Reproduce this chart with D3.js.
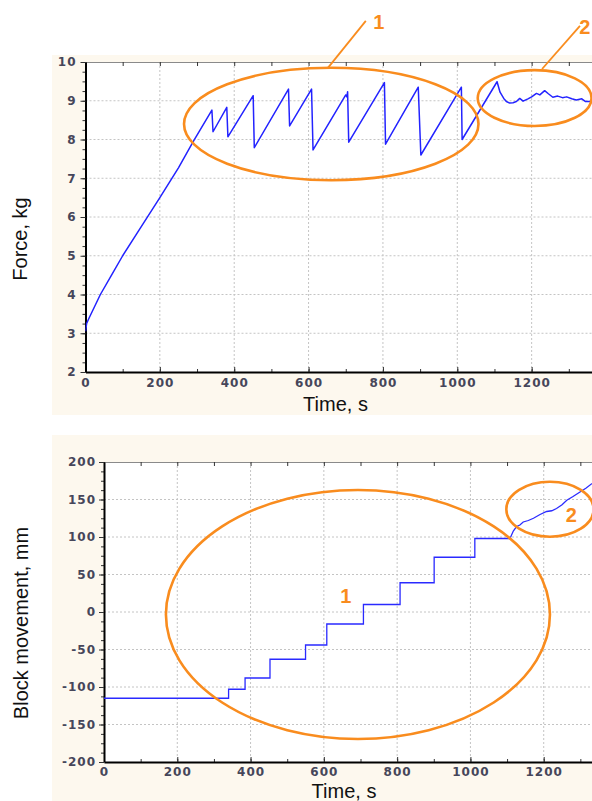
<html>
<head>
<meta charset="utf-8">
<script src="https://cdn.jsdelivr.net/npm/d3@7"></script>
<style>
  body { margin: 0; background: #fff; }
  .tick text { font-family: "DejaVu Sans", sans-serif; font-weight: bold; font-size: 12px; fill: #46465a; letter-spacing: 1px; }
  .title { font-family: "Liberation Sans", Arial, sans-serif; font-size: 20px; fill: #111; }
  .note { font-family: "Liberation Sans", Arial, sans-serif; font-weight: bold; font-size: 20px; fill: #f98c1e; }
</style>
</head>
<body>
<svg id="chart" width="592" height="801"></svg>
<script>
// force curve (top)
const forceTime = [0,3,10,20,40,70,100,150,200,250,290,340,343,380,383,451,454,546,549,608,612,700,703,705,708,804,807,895,902,1011,1013,1107,1115,1125,1132,1141,1150,1159,1168,1177,1190,1200,1213,1222,1235,1245,1257,1270,1283,1294,1308,1320,1335,1345,1356,1370,1385,1400];
const forceKg = [3.05,3.25,3.4,3.6,4.0,4.5,5.0,5.75,6.5,7.27,7.95,8.76,8.2,8.83,8.07,9.13,7.79,9.30,8.35,9.30,7.73,9.15,9.10,9.23,7.93,9.47,7.88,9.35,7.6,9.35,8.0,9.49,9.22,9.06,8.98,8.94,8.95,8.98,9.06,8.99,9.05,9.1,9.19,9.15,9.26,9.18,9.09,9.12,9.08,9.10,9.05,9.02,9.05,8.98,8.98,9.02,9.0,9.02];

// block movement (bottom): stick-slip steps, then creep
const stepTime = [0,340,385,453,550,608,708,808,901,1012,1108];
const stepMm = [-115,-103,-88,-63,-44,-16,10,39,73,98,98];
const creepTime = [1108,1117,1126,1135,1144,1158,1172,1190,1208,1222,1235,1250,1263,1280,1299,1315,1331,1360,1400];
const creepMm = [98,108,114,116,120,122,125,130,134,135,138,143,149,154,160,165,171,177,184];

// tick labels
const timeTicks = [0,200,400,600,800,1000,1200];
const timeMinor = d3.range(0, 1401, 100);
const forceTicks = [2,3,4,5,6,7,8,9,10];
const forceMinor = d3.range(2, 10.01, 0.25);
const mmTicks = [-200,-150,-100,-50,0,50,100,150,200];
const mmMinor = d3.range(-200, 201, 12.5);

const W = 592;
const orange = '#f98c1e';
const svg = d3.select('#chart');
const plain = d => String(d);

function drawChart(c) {
  svg.append('rect').attr('x', 52).attr('y', c.panelTop).attr('width', W - 52).attr('height', c.panelH).attr('fill', '#fdf8ee');
  const x = d3.scaleLinear().domain([0, 1400]).range([c.left, c.right]);
  const y = d3.scaleLinear().domain(c.yDomain).range([c.bottom, c.top]);
  const g = svg.append('g');
  g.append('rect').attr('x', c.left).attr('y', c.top).attr('width', c.right - c.left + 10).attr('height', c.bottom - c.top).attr('fill', '#fff');

  // dotted grid
  g.selectAll('.vg').data(timeTicks.slice(1)).enter().append('line')
    .attr('x1', d => x(d)).attr('x2', d => x(d)).attr('y1', c.top).attr('y2', c.bottom)
    .attr('stroke', '#c4c4c4').attr('stroke-dasharray', '2,2');
  g.selectAll('.hg').data(c.yTicks.slice(1, -1)).enter().append('line')
    .attr('x1', c.left).attr('x2', c.right + 10).attr('y1', d => y(d)).attr('y2', d => y(d))
    .attr('stroke', '#c4c4c4').attr('stroke-dasharray', '2,2');

  const clipId = 'clip' + c.panelTop;
  svg.append('clipPath').attr('id', clipId).append('rect')
    .attr('x', c.left).attr('y', c.top).attr('width', c.right - c.left).attr('height', c.bottom - c.top);

  // top border
  const border = g.append('g').attr('transform', `translate(0,${c.top})`)
    .call(d3.axisTop(x).tickValues(timeMinor).tickSize(-4).tickSizeOuter(0).tickFormat(''));
  border.select('.domain').attr('stroke', '#8a8a8a');

  // bottom axis
  g.append('g').attr('transform', `translate(0,${c.bottom})`)
    .call(d3.axisBottom(x).tickValues(timeMinor).tickSize(-3).tickSizeOuter(0).tickFormat(''))
    .select('.domain').remove();
  const bx = g.append('g').attr('transform', `translate(0,${c.bottom})`)
    .call(d3.axisBottom(x).tickValues(timeTicks).tickSize(-5).tickSizeOuter(0).tickPadding(c.xPad).tickFormat(plain));
  bx.select('.domain').attr('stroke', '#000').attr('stroke-width', 2);

  // left axis
  g.append('g').attr('transform', `translate(${c.left},0)`)
    .call(d3.axisLeft(y).tickValues(c.yMinor).tickSize(3).tickSizeOuter(0).tickFormat(''))
    .select('.domain').remove();
  const ly = g.append('g').attr('transform', `translate(${c.left},0)`)
    .call(d3.axisLeft(y).tickValues(c.yTicks).tickSize(5).tickSizeOuter(0).tickPadding(c.yPad).tickFormat(plain));
  ly.select('.domain').attr('stroke', '#000').attr('stroke-width', 2);
  g.selectAll('.tick line').attr('stroke', '#333');

  svg.append('text').attr('class', 'title')
    .attr('transform', `translate(${c.yTitle[0]},${c.yTitle[1]}) rotate(-90)`)
    .attr('text-anchor', 'middle').text(c.yLabel);
  svg.append('text').attr('class', 'title')
    .attr('x', c.xTitle[0]).attr('y', c.xTitle[1])
    .attr('text-anchor', 'middle').text('Time, s');

  return { x, y, clip: `url(#${clipId})` };
}

function ellipse(ch, cx, cy, rx, ry) {
  svg.append('ellipse')
    .attr('cx', ch.x(cx)).attr('cy', ch.y(cy))
    .attr('rx', ch.x(rx) - ch.x(0)).attr('ry', ch.y(0) - ch.y(ry))
    .attr('fill', 'none').attr('stroke', orange).attr('stroke-width', 2.6);
}
function leader(ch, t1, v1, t2, v2) {
  svg.append('line')
    .attr('x1', ch.x(t1)).attr('y1', ch.y(v1)).attr('x2', ch.x(t2)).attr('y2', ch.y(v2))
    .attr('stroke', orange).attr('stroke-width', 1.8);
}
function note(ch, t, v, s) {
  svg.append('text').attr('class', 'note').attr('text-anchor', 'middle')
    .attr('x', ch.x(t)).attr('y', ch.y(v)).text(s);
}

// ---- top: force ----
const forceChart = drawChart({
  panelTop: 55, panelH: 360, left: 85.5, right: 606, top: 62, bottom: 372,
  yDomain: [2, 10], yTicks: forceTicks, yMinor: forceMinor,
  xPad: 6, yPad: 4, yLabel: 'Force, kg', yTitle: [27, 239], xTitle: [335.5, 410.5]
});
svg.append('path')
  .datum(forceTime.map((t, i) => [t, forceKg[i]]))
  .attr('clip-path', forceChart.clip)
  .attr('fill', 'none').attr('stroke', '#2323ff').attr('stroke-width', 1.5).attr('stroke-linejoin', 'round')
  .attr('d', d3.line().x(d => forceChart.x(d[0])).y(d => forceChart.y(d[1])));

ellipse(forceChart, 661, 8.4, 396, 1.45);
ellipse(forceChart, 1208, 9.07, 153, 0.72);
leader(forceChart, 652, 9.85, 754, 11.06);
leader(forceChart, 1228, 9.82, 1330, 10.93);
note(forceChart, 789, 10.85, '1');
note(forceChart, 1343, 10.72, '2');

// ---- bottom: block movement ----
const moveChart = drawChart({
  panelTop: 435, panelH: 370, left: 104, right: 617, top: 462, bottom: 762,
  yDomain: [-200, 200], yTicks: mmTicks, yMinor: mmMinor,
  xPad: 5, yPad: 3, yLabel: 'Block movement, mm', yTitle: [28, 623], xTitle: [344, 798]
});
svg.append('path')
  .datum(stepTime.map((t, i) => [t, stepMm[i]]))
  .attr('clip-path', moveChart.clip)
  .attr('fill', 'none').attr('stroke', '#2a2aff').attr('stroke-width', 1.3)
  .attr('d', d3.line().curve(d3.curveStepAfter).x(d => moveChart.x(d[0])).y(d => moveChart.y(d[1])));
svg.append('path')
  .datum(creepTime.map((t, i) => [t, creepMm[i]]))
  .attr('clip-path', moveChart.clip)
  .attr('fill', 'none').attr('stroke', '#2a2aff').attr('stroke-width', 1.3)
  .attr('d', d3.line().x(d => moveChart.x(d[0])).y(d => moveChart.y(d[1])));

ellipse(moveChart, 693, -3.3, 524, 166);
ellipse(moveChart, 1217, 137, 119, 36.7);
note(moveChart, 660, 12, '1');
note(moveChart, 1275, 120, '2');
</script>
</body>
</html>
